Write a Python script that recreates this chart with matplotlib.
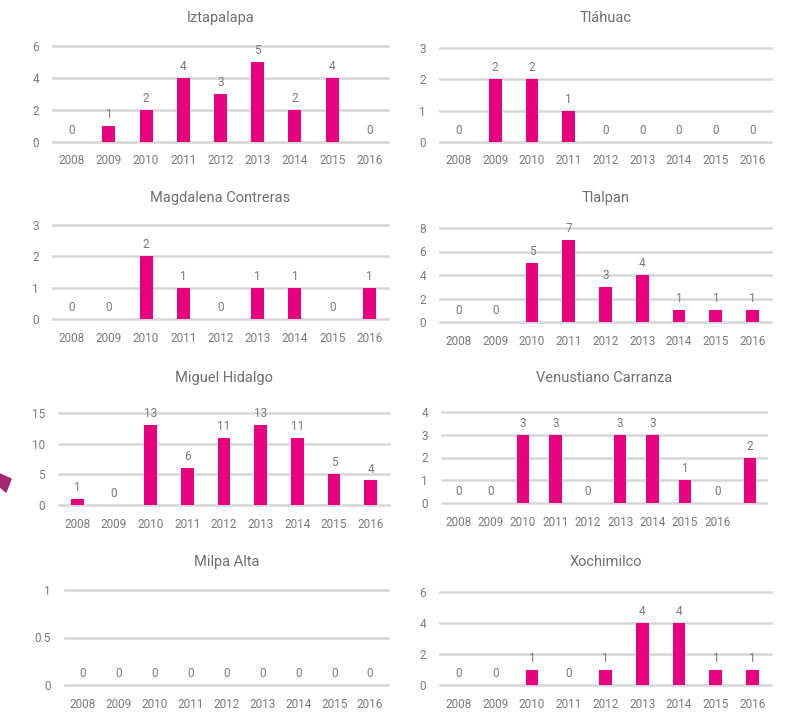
import matplotlib
matplotlib.use("Agg")
import matplotlib.pyplot as plt
from matplotlib.patches import Polygon

plt.rcParams['font.family'] = ['Roboto', 'DejaVu Sans']

years = ['2008', '2009', '2010', '2011', '2012', '2013', '2014', '2015', '2016']

iztapalapa = [0, 1, 2, 4, 3, 5, 2, 4, 0]
tlahuac = [0, 2, 2, 1, 0, 0, 0, 0, 0]
magdalena = [0, 0, 2, 1, 0, 1, 1, 0, 1]
tlalpan = [0, 0, 5, 7, 3, 4, 1, 1, 1]
miguel = [1, 0, 13, 6, 11, 13, 11, 5, 4]
# this one has an extra unlabeled category at the end
venustiano = [0, 0, 3, 3, 0, 3, 3, 1, 0, 2]
venustiano_labels = years + ['']
milpa = [0, 0, 0, 0, 0, 0, 0, 0, 0]
xochimilco = [0, 0, 1, 0, 1, 4, 4, 1, 1]

W, H = 791, 712
PINK = '#e6007e'
GRID = '#d6d6d6'
TXT = '#7a7a7a'

# (title, values, labels, ymax, yticks, x0, x1, ytop, ybase, title_y)
panels = [
    ('Iztapalapa', iztapalapa, years, 6, [0, 2, 4, 6], 53, 388, 46, 142, 18),
    ('Tláhuac', tlahuac, years, 3, [0, 1, 2, 3], 440, 771, 48, 142, 18),
    ('Magdalena Contreras', magdalena, years, 3, [0, 1, 2, 3], 53, 388, 225, 319, 198),
    ('Tlalpan', tlalpan, years, 8, [0, 2, 4, 6, 8], 440, 771, 228, 322, 198),
    ('Miguel Hidalgo', miguel, years, 15, [0, 5, 10, 15], 59, 389, 413, 505, 378),
    ('Venustiano Carranza', venustiano, venustiano_labels, 4, [0, 1, 2, 3, 4], 442, 766, 412, 503, 378),
    ('Milpa Alta', milpa, years, 1, [0, 0.5, 1], 65, 388, 590, 685, 562),
    ('Xochimilco', xochimilco, years, 6, [0, 2, 4, 6], 440, 771, 592, 685, 562),
]

fig = plt.figure(figsize=(W / 100, H / 100), dpi=100)

for title, vals, labels, ymax, yt, x0, x1, ytop, ybase, ty in panels:
    ax = fig.add_axes([x0 / W, 1 - ybase / H, (x1 - x0) / W, (ybase - ytop) / H])
    xs = list(range(len(vals)))
    bw = 0.35 if len(vals) == 9 else 0.38
    ax.bar(xs, vals, width=bw, color=PINK, zorder=3)
    for x, v in zip(xs, vals):
        ax.annotate(str(v), (x, v), xytext=(0, 3.5), textcoords='offset points',
                    ha='center', va='bottom', fontsize=8.5, color=TXT, annotation_clip=False)
    ax.set_xlim(-0.5, len(vals) - 0.5)
    ax.set_ylim(0, ymax)
    ax.set_yticks(yt)
    ax.set_yticklabels([('%g' % t) for t in yt])
    ax.set_xticks(xs)
    ax.set_xticklabels(labels)
    for t in yt:
        ax.axhline(t, color=GRID, lw=1.8, zorder=1, clip_on=False)
    for s in ax.spines.values():
        s.set_visible(False)
    ax.tick_params(axis='both', length=0, labelsize=8.5, colors=TXT)
    ax.tick_params(axis='y', pad=10)
    ax.tick_params(axis='x', pad=9)
    fig.text((x0 + x1) / 2 / W, 1 - ty / H, title, ha='center', va='center',
             fontsize=10.5, color='#707070')

# small purple arrow fragment at the left edge
fig.patches.append(Polygon([[0, 1 - 474 / H], [11 / W, 1 - 479 / H], [6 / W, 1 - 492 / H], [0, 1 - 487 / H]],
                           closed=True, transform=fig.transFigure, color='#a3266e'))

fig.savefig('out.png', dpi=100, facecolor='white')
